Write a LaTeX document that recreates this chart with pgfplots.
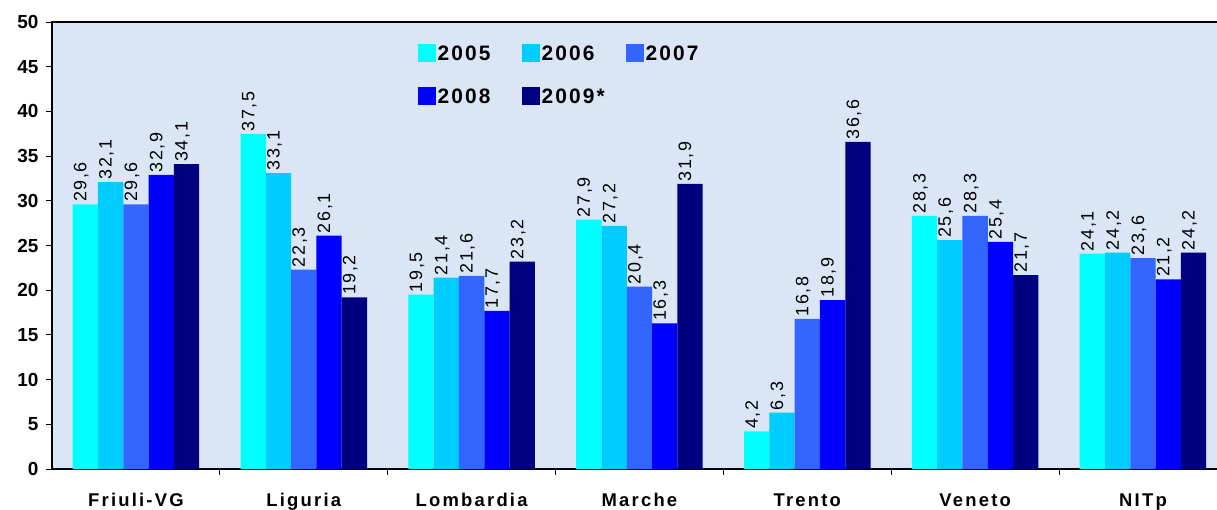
\documentclass[border=0pt]{standalone}
\usepackage{fontspec}
\setmainfont{Liberation Sans}
\newfontfamily\spaced[LetterSpace=12]{Liberation Sans}
\newfontfamily\spacedv[LetterSpace=9]{Liberation Sans}
\newfontfamily\spacedl[LetterSpace=10]{Liberation Sans}
\usepackage{pgfplots}
\pgfplotsset{compat=1.18}
\definecolor{cA}{HTML}{00FFFF}
\definecolor{cB}{HTML}{00CCFF}
\definecolor{cC}{HTML}{3366FF}
\definecolor{cD}{HTML}{0000FF}
\definecolor{cE}{HTML}{000080}
\definecolor{bgc}{HTML}{DAE6F5}
\begin{document}
\begin{tikzpicture}
\path[use as bounding box] (-52bp,-41bp) rectangle (1165bp,469bp);
\clip (-52bp,-41bp) rectangle (1165bp,469bp);
\begin{axis}[
  scale only axis,
  width=1175bp, height=447bp,
  ymin=0, ymax=50, ytick={0,5,...,50},
  xmin=-0.5, xmax=6.5,
  xtick={0,...,6},
  xticklabels={Friuli-VG,Liguria,Lombardia,Marche,Trento,Veneto,NITp},
  minor xtick={0.5,1.5,...,6.5},
  major x tick style={draw=none},
  tick align=outside,
  xtick pos=bottom, ytick pos=left,
  major tick length=6bp, minor tick length=6bp,
  tick style={black, line width=0.9pt},
  axis line style={black, line width=1.2pt},
  axis background/.style={fill=bgc},
  /pgf/number format/assume math mode=true,
  yticklabel style={font=\fontsize{19}{19}\selectfont\bfseries, xshift=-4bp},
  xticklabel style={font=\spaced\fontsize{18.5}{18.5}\selectfont\bfseries, yshift=-15bp},
  ybar=0pt, bar width=25.3bp,
  every axis plot/.append style={draw=none},
  nodes near coords,
  nodes near coords style={font=\spacedv\fontsize{18}{18}\selectfont, rotate=90, anchor=west, xshift=-1bp, yshift=4bp, text=black,
    /pgf/number format/.cd, use comma, fixed, fixed zerofill, precision=1, assume math mode=true},
  legend columns=3,
  legend style={draw=none, fill=none, at={(0.3085,0.956)}, anchor=north west,
    font=\spacedl\fontsize{21}{21}\selectfont\bfseries,
    /tikz/every even column/.append style={text width=62bp, align=left, column sep=20bp},
    row sep=23bp},
  legend image code/.code={\fill[#1] (0bp,-8bp) rectangle (18bp,10bp);},
]
\addplot[fill=cA] coordinates {(0,29.6) (1,37.5) (2,19.5) (3,27.9) (4,4.2) (5,28.3) (6,24.1)};
\addplot[fill=cB] coordinates {(0,32.1) (1,33.1) (2,21.4) (3,27.2) (4,6.3) (5,25.6) (6,24.2)};
\addplot[fill=cC] coordinates {(0,29.6) (1,22.3) (2,21.6) (3,20.4) (4,16.8) (5,28.3) (6,23.6)};
\addplot[fill=cD] coordinates {(0,32.9) (1,26.1) (2,17.7) (3,16.3) (4,18.9) (5,25.4) (6,21.2)};
\addplot[fill=cE] coordinates {(0,34.1) (1,19.2) (2,23.2) (3,31.9) (4,36.6) (5,21.7) (6,24.2)};
\legend{2005,2006,2007,2008,2009*}
\end{axis}
\end{tikzpicture}
\end{document}
